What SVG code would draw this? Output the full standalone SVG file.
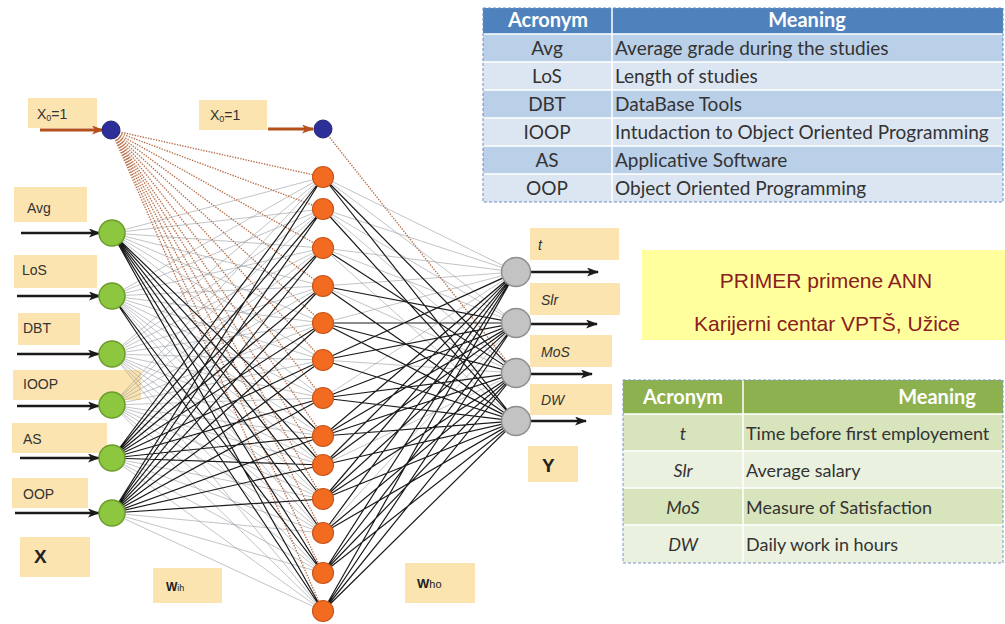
<svg xmlns="http://www.w3.org/2000/svg" width="1005" height="624" viewBox="0 0 1005 624">
  <defs>
    <style>
      .lbl { fill: #fbe4b0; }
      .ltxt { font-family: "Liberation Sans", Arial, sans-serif; font-size: 14px; fill: #333; }
      .otxt { font-family: "Liberation Sans", Arial, sans-serif; font-size: 14px; fill: #333; font-style: italic; }
      .big { font-family: "Liberation Sans", Arial, sans-serif; font-size: 19px; font-weight: bold; fill: #222; }
      .wt { font-family: "Liberation Sans", Arial, sans-serif; font-weight: bold; fill: #222; }
      .inN { fill: #8dc63f; stroke: #6c9d2c; stroke-width: 1.5; }
      .hidN { fill: #f36b21; stroke: #c9561a; stroke-width: 1.2; }
      .biasN { fill: #2c2f98; stroke: #23267a; stroke-width: 1; }
      .outN { fill: #c3c3c3; stroke: #8e8e8e; stroke-width: 1.5; }
      .gray { fill: none; stroke: #8f959c; stroke-width: 0.7; opacity: 0.8; }
      .black { fill: none; stroke: #1b1b1b; stroke-width: 1.2; }
      .dot { fill: none; stroke: #b8724e; stroke-width: 1.4; stroke-dasharray: 1.4 1.3; }
      .arr { stroke: #1a1a1a; stroke-width: 2.4; marker-end: url(#ah); }
      .arrB { stroke: #b5501c; stroke-width: 3; marker-end: url(#ahB); }
      .tb { font-family: Lato, "Liberation Sans", sans-serif; font-size: 19px; fill: #333; }
      .tg { font-family: Lato, "Liberation Sans", sans-serif; font-size: 18px; fill: #333; }
      .th { font-family: Lato, "Liberation Sans", sans-serif; font-size: 20px; font-weight: bold; fill: #fff; }
      .title { font-family: "Liberation Sans", Arial, sans-serif; font-size: 21px; fill: #8a2020; }
    </style>
    <marker id="ah" markerUnits="userSpaceOnUse" markerWidth="12" markerHeight="9" viewBox="0 0 12 9" refX="11" refY="4.5" orient="auto">
      <path d="M0,0 L12,4.5 L0,9 L3,4.5 z" fill="#1a1a1a"/>
    </marker>
    <marker id="ahB" markerUnits="userSpaceOnUse" markerWidth="12" markerHeight="9" viewBox="0 0 12 9" refX="11" refY="4.5" orient="auto">
      <path d="M0,0 L12,4.5 L0,9 L3,4.5 z" fill="#b5501c"/>
    </marker>
  </defs>
  <rect width="1005" height="624" fill="#fff"/>

  <!-- label boxes (drawn beneath the network) -->
  <g id="labels">
    <g id="lbl-x0-in"><rect class="lbl" x="28" y="98" width="69" height="30"/><text class="ltxt" x="37" y="119" font-size="13">X<tspan font-size="9" dy="2">0</tspan><tspan dy="-2">=1</tspan></text></g>
    <g id="lbl-x0-hid"><rect class="lbl" x="199" y="100" width="68" height="30"/><text class="ltxt" x="210" y="120" font-size="13">X<tspan font-size="9" dy="2">0</tspan><tspan dy="-2">=1</tspan></text></g>
    <g id="lbl-avg"><rect class="lbl" x="14" y="187" width="73" height="35"/><text class="ltxt" x="27" y="213">Avg</text></g>
    <g id="lbl-los"><rect class="lbl" x="14" y="255" width="83" height="33"/><text class="ltxt" x="22" y="275">LoS</text></g>
    <g id="lbl-dbt"><rect class="lbl" x="18" y="313" width="62" height="32"/><text class="ltxt" x="23" y="333">DBT</text></g>
    <g id="lbl-ioop"><rect class="lbl" x="13" y="370" width="128" height="30"/><text class="ltxt" x="23" y="389">IOOP</text></g>
    <g id="lbl-as"><rect class="lbl" x="12" y="423" width="95" height="30"/><text class="ltxt" x="23" y="444">AS</text></g>
    <g id="lbl-oop"><rect class="lbl" x="12" y="478" width="76" height="30"/><text class="ltxt" x="23" y="499">OOP</text></g>
    <g id="lbl-X"><rect class="lbl" x="20" y="537" width="70" height="40"/><text class="big" x="34" y="563">X</text></g>
    <g id="lbl-wih"><rect class="lbl" x="153" y="568" width="69" height="35"/><text class="wt" x="166" y="591" font-size="12">W<tspan font-size="9" font-weight="normal">ih</tspan></text></g>
    <g id="lbl-who"><rect class="lbl" x="405" y="563" width="70" height="40"/><text class="wt" x="417" y="588" font-size="13">W<tspan font-size="11" font-weight="normal">ho</tspan></text></g>
    <g id="lbl-t"><rect class="lbl" x="530" y="228" width="89" height="32"/><text class="otxt" x="538" y="250">t</text></g>
    <g id="lbl-slr"><rect class="lbl" x="530" y="283" width="90" height="32"/><text class="otxt" x="541" y="305">Slr</text></g>
    <g id="lbl-mos"><rect class="lbl" x="530" y="335" width="82" height="32"/><text class="otxt" x="541" y="357">MoS</text></g>
    <g id="lbl-dw"><rect class="lbl" x="530" y="384" width="82" height="31"/><text class="otxt" x="541" y="405">DW</text></g>
    <g id="lbl-Y"><rect class="lbl" x="528" y="446" width="50" height="36"/><text class="big" x="542" y="472">Y</text></g>
  </g>

  <!-- connectors -->
  <g id="connectors">
    <!-- input to hidden, light weights -->
    <path class="gray" d="M112 233L323 177M112 233L323 209M112 233L323 248M112 233L323 286M112 233L323 323M112 233L323 360M112 233L323 398
      M112 296L323 177M112 296L323 209M112 296L323 248M112 296L323 286M112 296L323 323M112 296L323 360M112 296L323 398M112 296L323 436M112 296L323 465M112 296L323 499M112 296L323 533
      M112 354L323 177M112 354L323 209M112 354L323 248M112 354L323 286M112 354L323 323M112 354L323 360M112 354L323 398M112 354L323 436M112 354L323 465M112 354L323 499M112 354L323 533M112 354L323 573M112 354L323 611
      M112 405L323 177M112 405L323 209M112 405L323 248M112 405L323 286M112 405L323 323M112 405L323 360M112 405L323 398M112 405L323 436M112 405L323 465M112 405L323 499M112 405L323 533M112 405L323 573M112 405L323 611
      M112 458L323 499M112 458L323 533M112 458L323 573M112 458L323 611
      M112 513L323 533M112 513L323 573M112 513L323 611"/>
    <!-- hidden to output, light weights -->
    <path class="gray" d="M323 177L516 272M323 177L516 323M323 209L516 272M323 209L516 323M323 209L516 373M323 248L516 272M323 248L516 323M323 248L516 421
      M323 286L516 272M323 286L516 373M323 323L516 272M323 360L516 373M323 398L516 272M323 465L516 373M323 533L516 323"/>
    <!-- bias connections -->
    <path class="dot" d="M111 130L323 177M111 130L323 209M111 130L323 248M111 130L323 286M111 130L323 323M111 130L323 360M111 130L323 398M111 130L323 436M111 130L323 465M111 130L323 499M111 130L323 533M111 130L323 573M111 130L323 611
      M323 129L516 373"/>
    <!-- input to hidden, strong weights -->
    <path class="black" d="M112 233L323 436M112 233L323 465M112 233L323 499M112 233L323 533M112 233L323 573M112 233L323 611
      M112 296L323 573M112 296L323 611
      M112 458L323 177M112 458L323 209M112 458L323 248M112 458L323 286M112 458L323 323M112 458L323 360M112 458L323 398M112 458L323 436M112 458L323 465
      M112 513L323 177M112 513L323 209M112 513L323 248M112 513L323 286M112 513L323 323M112 513L323 360M112 513L323 398M112 513L323 436M112 513L323 465M112 513L323 499"/>
    <!-- hidden to output, strong weights -->
    <path class="black" d="M323 177L516 373M323 177L516 421M323 209L516 421M323 248L516 373M323 286L516 323M323 286L516 421
      M323 323L516 323M323 323L516 373M323 323L516 421M323 360L516 272M323 360L516 323M323 360L516 421
      M323 398L516 323M323 398L516 373M323 398L516 421M323 436L516 272M323 436L516 323M323 436L516 373M323 436L516 421
      M323 465L516 272M323 465L516 323M323 465L516 421M323 499L516 272M323 499L516 323M323 499L516 373M323 499L516 421
      M323 533L516 272M323 533L516 373M323 533L516 421M323 573L516 272M323 573L516 323M323 573L516 373M323 573L516 421
      M323 611L516 272M323 611L516 323M323 611L516 373M323 611L516 421"/>
    <!-- input arrows -->
    <line class="arrB" x1="40" y1="130" x2="103" y2="130"/>
    <line class="arrB" x1="268" y1="129" x2="313" y2="129" stroke-width="2.4"/>
    <line class="arr" x1="21" y1="233" x2="100" y2="233"/>
    <line class="arr" x1="17" y1="296" x2="100" y2="296"/>
    <line class="arr" x1="17" y1="354" x2="99" y2="354" stroke-width="3"/>
    <line class="arr" x1="17" y1="406" x2="99" y2="406"/>
    <line class="arr" x1="20" y1="458" x2="99" y2="458" stroke-width="3"/>
    <line class="arr" x1="15" y1="513" x2="99" y2="513" stroke-width="3"/>
    <!-- output arrows -->
    <line class="arr" x1="530" y1="272" x2="598" y2="272" stroke-width="3"/>
    <line class="arr" x1="530" y1="324" x2="597" y2="324" stroke-width="3"/>
    <line class="arr" x1="530" y1="374" x2="592" y2="374" stroke-width="3"/>
    <line class="arr" x1="530" y1="421" x2="586" y2="421" stroke-width="3"/>
  </g>

  <!-- input layer -->
  <g id="in-bias"><circle class="biasN" cx="111" cy="130" r="9"/></g>
  <g id="in-avg"><circle class="inN" cx="112" cy="233" r="13"/></g>
  <g id="in-los"><circle class="inN" cx="112" cy="296" r="13"/></g>
  <g id="in-dbt"><circle class="inN" cx="112" cy="354" r="13"/></g>
  <g id="in-ioop"><circle class="inN" cx="112" cy="405" r="13"/></g>
  <g id="in-as"><circle class="inN" cx="112" cy="458" r="13"/></g>
  <g id="in-oop"><circle class="inN" cx="112" cy="513" r="13"/></g>

  <!-- hidden layer -->
  <g id="hid-bias"><circle class="biasN" cx="323" cy="129" r="9"/></g>
  <g id="hid-1"><circle class="hidN" cx="323" cy="177" r="10.5"/></g>
  <g id="hid-2"><circle class="hidN" cx="323" cy="209" r="10.5"/></g>
  <g id="hid-3"><circle class="hidN" cx="323" cy="248" r="10.5"/></g>
  <g id="hid-4"><circle class="hidN" cx="323" cy="286" r="10.5"/></g>
  <g id="hid-5"><circle class="hidN" cx="323" cy="323" r="10.5"/></g>
  <g id="hid-6"><circle class="hidN" cx="323" cy="360" r="10.5"/></g>
  <g id="hid-7"><circle class="hidN" cx="323" cy="398" r="10.5"/></g>
  <g id="hid-8"><circle class="hidN" cx="323" cy="436" r="10.5"/></g>
  <g id="hid-9"><circle class="hidN" cx="323" cy="465" r="10.5"/></g>
  <g id="hid-10"><circle class="hidN" cx="323" cy="499" r="10.5"/></g>
  <g id="hid-11"><circle class="hidN" cx="323" cy="533" r="10.5"/></g>
  <g id="hid-12"><circle class="hidN" cx="323" cy="573" r="10.5"/></g>
  <g id="hid-13"><circle class="hidN" cx="323" cy="611" r="10.5"/></g>

  <!-- output layer -->
  <g id="out-t"><circle class="outN" cx="516" cy="272" r="14.5"/></g>
  <g id="out-slr"><circle class="outN" cx="516" cy="323" r="14.5"/></g>
  <g id="out-mos"><circle class="outN" cx="516" cy="373" r="14.5"/></g>
  <g id="out-dw"><circle class="outN" cx="516" cy="421" r="14.5"/></g>

  <!-- input acronym table -->
  <g id="table-inputs">
    <rect x="483" y="8" width="520" height="26" fill="#4f81bd"/>
    <rect x="483" y="34" width="520" height="28" fill="#bacfe8"/>
    <rect x="483" y="62" width="520" height="28" fill="#dce6f2"/>
    <rect x="483" y="90" width="520" height="28" fill="#bacfe8"/>
    <rect x="483" y="118" width="520" height="28" fill="#dce6f2"/>
    <rect x="483" y="146" width="520" height="28" fill="#bacfe8"/>
    <rect x="483" y="174" width="520" height="28" fill="#dce6f2"/>
    <path d="M483 34H1003M483 62H1003M483 90H1003M483 118H1003M483 146H1003M483 174H1003M612 8V202" stroke="#fff" stroke-width="1.5"/>
    <rect x="483" y="8" width="520" height="194" fill="none" stroke="#6f8fc4" stroke-width="1" stroke-dasharray="3 2"/>
    <text class="th" x="548" y="27" text-anchor="middle">Acronym</text>
    <text class="th" x="807" y="27" text-anchor="middle">Meaning</text>
    <text class="tb" x="547" y="55" text-anchor="middle">Avg</text>
    <text class="tb" x="615" y="55">Average grade during the studies</text>
    <text class="tb" x="547" y="83" text-anchor="middle">LoS</text>
    <text class="tb" x="615" y="83">Length of studies</text>
    <text class="tb" x="547" y="111" text-anchor="middle">DBT</text>
    <text class="tb" x="615" y="111">DataBase Tools</text>
    <text class="tb" x="547" y="139" text-anchor="middle">IOOP</text>
    <text class="tb" x="615" y="139">Intudaction to Object Oriented Programming</text>
    <text class="tb" x="547" y="167" text-anchor="middle">AS</text>
    <text class="tb" x="615" y="167">Applicative Software</text>
    <text class="tb" x="547" y="195" text-anchor="middle">OOP</text>
    <text class="tb" x="615" y="195">Object Oriented Programming</text>
  </g>

  <!-- title panel -->
  <g id="title">
    <rect x="642" y="250" width="363" height="90" fill="#ffff9e"/>
    <text class="title" x="826" y="288" text-anchor="middle">PRIMER primene ANN</text>
    <text class="title" x="827" y="331" text-anchor="middle" font-size="20">Karijerni centar VPTŠ, Užice</text>
  </g>

  <!-- output acronym table -->
  <g id="table-outputs">
    <rect x="623" y="380" width="380" height="34" fill="#8eb14f"/>
    <rect x="623" y="414" width="380" height="37" fill="#d8e4bc"/>
    <rect x="623" y="451" width="380" height="37" fill="#ebf1df"/>
    <rect x="623" y="488" width="380" height="37" fill="#d8e4bc"/>
    <rect x="623" y="525" width="380" height="38" fill="#ebf1df"/>
    <path d="M623 414H1003M623 451H1003M623 488H1003M623 525H1003M743 380V563" stroke="#fff" stroke-width="1.5"/>
    <rect x="623" y="380" width="380" height="183" fill="none" stroke="#7c95c4" stroke-width="1" stroke-dasharray="3 2"/>
    <text class="th" x="683" y="404" text-anchor="middle">Acronym</text>
    <text class="th" x="937" y="404" text-anchor="middle">Meaning</text>
    <text class="tg" x="683" y="440" text-anchor="middle" font-style="italic">t</text>
    <text class="tg" x="746" y="440">Time before first employement</text>
    <text class="tg" x="683" y="477" text-anchor="middle" font-style="italic">Slr</text>
    <text class="tg" x="746" y="477">Average salary</text>
    <text class="tg" x="683" y="514" text-anchor="middle" font-style="italic">MoS</text>
    <text class="tg" x="746" y="514">Measure of Satisfaction</text>
    <text class="tg" x="683" y="551" text-anchor="middle" font-style="italic">DW</text>
    <text class="tg" x="746" y="551">Daily work in hours</text>
  </g>
</svg>
